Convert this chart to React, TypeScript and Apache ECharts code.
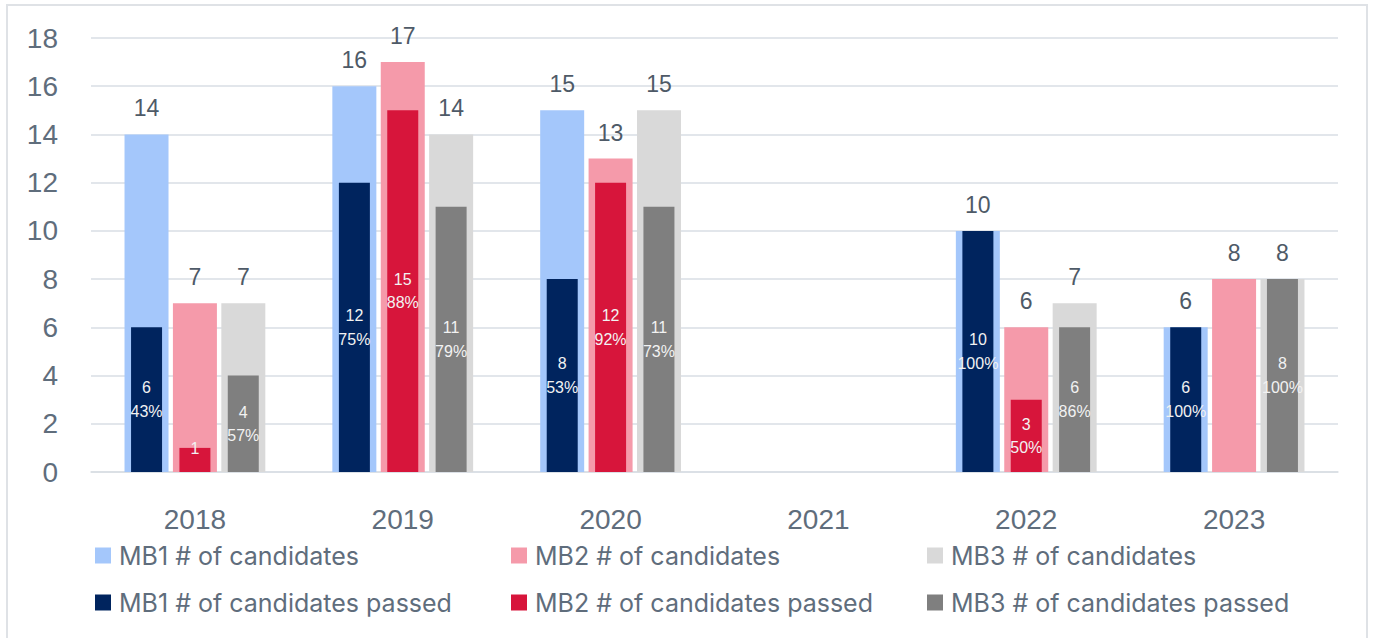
import React, { useEffect, useRef } from "react";
import * as echarts from "echarts";

const years = ["2018", "2019", "2020", "2021", "2022", "2023"];
const mb1Candidates = [14, 16, 15, null, 10, 6];
const mb2Candidates = [7, 17, 13, null, 6, 8];
const mb3Candidates = [7, 14, 15, null, 7, 8];
const mb1Passed = [6, 12, 8, null, 10, 6];
const mb2Passed = [1, 15, 12, null, 3, null];
const mb3Passed = [4, 11, 11, null, 6, 8];
const mb1Pct = ["43%", "75%", "53%", null, "100%", "100%"];
const mb2Pct = [null, "88%", "92%", null, "50%", null];
const mb3Pct = ["57%", "79%", "73%", null, "86%", "100%"];
const yTicks = [0, 2, 4, 6, 8, 10, 12, 14, 16, 18];

const NUM_FONT = "Liberation Sans";
const LEG_FONT = "Inter";
const AXIS_COLOR = "#5f6d7c";
const GRID_COLOR = "#d9dee4";

export default function App() {
  const ref = useRef<HTMLDivElement>(null);
  useEffect(() => {
    if (!ref.current) return;
    const chart = echarts.init(ref.current, null, { renderer: "svg" });

    const lightSeries = (name: string, data: (number | null)[], color: string) => ({
      name,
      type: "bar",
      xAxisIndex: 0,
      data,
      barWidth: 44,
      barGap: "10%",
      itemStyle: { color },
      label: {
        show: true,
        position: "top",
        distance: 14,
        fontSize: 23,
        lineHeight: 24,
        fontFamily: NUM_FONT,
        color: "#4e5a67",
      },
      z: 2,
    });
    const darkSeries = (
      name: string,
      data: (number | null)[],
      pct: (string | null)[],
      color: string
    ) => ({
      name,
      type: "bar",
      xAxisIndex: 1,
      data,
      barWidth: 31,
      barGap: "56%",
      itemStyle: { color },
      label: {
        show: true,
        position: "inside",
        fontSize: 16,
        lineHeight: 23.5,
        fontFamily: NUM_FONT,
        color: "#f2f2f2",
        formatter: (p: any) => `${p.value}\n${pct[p.dataIndex] ?? ""}`,
      },
      z: 3,
    });

    const legendPos = [
      { name: "MB1 # of candidates", left: 95, top: 543 },
      { name: "MB2 # of candidates", left: 511, top: 543 },
      { name: "MB3 # of candidates", left: 927, top: 543 },
      { name: "MB1 # of candidates passed", left: 95, top: 590 },
      { name: "MB2 # of candidates passed", left: 511, top: 590 },
      { name: "MB3 # of candidates passed", left: 927, top: 590 },
    ];

    chart.setOption({
      animation: false,
      backgroundColor: "#ffffff",
      textStyle: { fontFamily: NUM_FONT },
      graphic: [
        {
          type: "rect",
          shape: { x: 7, y: 5, width: 1360, height: 645 },
          style: { fill: "none", stroke: "#dfe2e6", lineWidth: 2 },
          silent: true,
        },
      ],
      legend: legendPos.map((l) => ({
        data: [l.name],
        left: l.left,
        top: l.top,
        padding: 0,
        itemWidth: 16,
        itemHeight: 16,
        icon: "rect",
        selectedMode: false,
        textStyle: {
          fontSize: 25,
          fontFamily: LEG_FONT,
          color: AXIS_COLOR,
          padding: [0, 0, 0, 3],
        },
      })),
      grid: { left: 91, right: 35, top: 38, bottom: 166 },
      xAxis: [
        {
          type: "category",
          data: years,
          axisLine: { show: true, lineStyle: { color: GRID_COLOR, width: 1.5 } },
          axisTick: { show: false },
          axisLabel: {
            fontSize: 28,
            lineHeight: 28,
            margin: 33,
            color: AXIS_COLOR,
            fontFamily: NUM_FONT,
          },
        },
        {
          type: "category",
          data: years,
          show: false,
        },
      ],
      yAxis: {
        type: "value",
        min: yTicks[0],
        max: yTicks[yTicks.length - 1],
        interval: 2,
        axisLine: { show: false },
        axisTick: { show: false },
        splitLine: { lineStyle: { color: GRID_COLOR, width: 1.5 } },
        axisLabel: {
          fontSize: 28,
          margin: 33,
          color: AXIS_COLOR,
          fontFamily: NUM_FONT,
        },
      },
      series: [
        lightSeries("MB1 # of candidates", mb1Candidates, "#a4c7fb"),
        lightSeries("MB2 # of candidates", mb2Candidates, "#f59aaa"),
        lightSeries("MB3 # of candidates", mb3Candidates, "#d9d9d9"),
        darkSeries("MB1 # of candidates passed", mb1Passed, mb1Pct, "#00245e"),
        darkSeries("MB2 # of candidates passed", mb2Passed, mb2Pct, "#d7153b"),
        darkSeries("MB3 # of candidates passed", mb3Passed, mb3Pct, "#7f7f7f"),
      ],
    });
    return () => chart.dispose();
  }, []);
  return (
    <div
      ref={ref}
      style={{ position: "absolute", left: 0, top: 0, width: 1373, height: 638 }}
    />
  );
}
